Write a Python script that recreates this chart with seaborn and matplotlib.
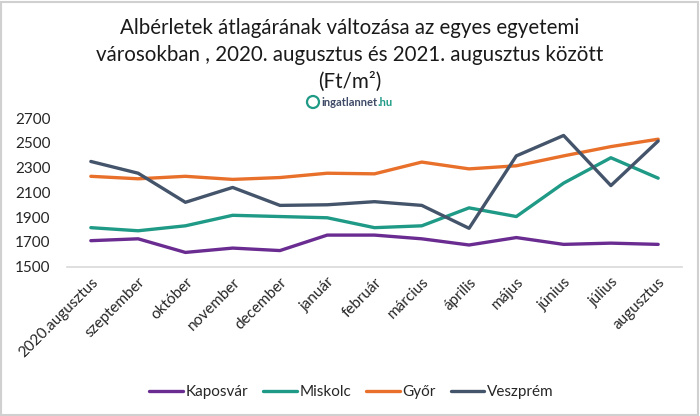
import numpy as np
import pandas as pd
import matplotlib
matplotlib.use("Agg")
import matplotlib.pyplot as plt
import seaborn as sns
from matplotlib.patches import Rectangle, Ellipse

months = ["2020.augusztus", "szeptember", "október", "november", "december",
          "január", "február", "március", "április", "május", "június",
          "július", "augusztus"]
cities = ["Kaposvár", "Miskolc", "Győr", "Veszprém"]
kaposvar = [1710, 1725, 1615, 1650, 1630, 1755, 1755, 1725, 1675, 1735, 1680, 1690, 1680]
miskolc = [1815, 1790, 1830, 1915, 1905, 1895, 1815, 1830, 1975, 1905, 2175, 2380, 2215]
gyor = [2230, 2210, 2230, 2205, 2220, 2255, 2250, 2345, 2290, 2315, 2395, 2470, 2530]
veszprem = [2350, 2255, 2020, 2140, 1995, 2000, 2025, 1995, 1810, 2395, 2560, 2155, 2515]
colors = ["#6A2C91", "#1E9A86", "#E8702A", "#44546A"]

df = pd.DataFrame({
    "pos": list(range(len(months))) * 4,
    "ar": kaposvar + miskolc + gyor + veszprem,
    "varos": [c for c in cities for _ in months],
})

sns.set_theme(style="white")
plt.rcParams["font.family"] = ["Lato", "DejaVu Sans"]

fig = plt.figure(figsize=(7, 4.16), dpi=100)
ax = fig.add_axes([0.096, 0.359, 0.878, 0.357])

sns.lineplot(data=df, x="pos", y="ar", hue="varos", hue_order=cities,
             palette=colors, linewidth=2.4, ax=ax, legend=True)

ax.set_xlim(-0.5, len(months) - 0.5)
ax.set_ylim(1500, 2700)
ax.set_yticks(range(1500, 2701, 200))
ax.set_xticks(range(len(months)))
ax.set_xticklabels(months, rotation=45, ha="right", rotation_mode="anchor")
ax.tick_params(axis="both", labelsize=11, colors="#262626", length=0, pad=6)
ax.tick_params(axis="y", pad=12)
ax.set_xlabel("")
ax.set_ylabel("")
for s in ["top", "right", "left"]:
    ax.spines[s].set_visible(False)
ax.spines["bottom"].set_color("#D9D9D9")
ax.spines["bottom"].set_linewidth(1.2)

h, l = ax.get_legend_handles_labels()
ax.legend(h, l, loc="center", bbox_to_anchor=(0.502, 0.058), bbox_transform=fig.transFigure,
          ncol=4, frameon=False, fontsize=11, handlelength=2.2, handletextpad=0.15,
          columnspacing=1.0, labelcolor="#262626")

fig.text(0.5, 0.868, "Albérletek átlagárának változása az egyes egyetemi\n"
         "városokban , 2020. augusztus és 2021. augusztus között\n(Ft/m²)",
         ha="center", va="center", fontsize=14.8, color="#1a1a1a", linespacing=1.42)

# logo
ly = 1 - 102 / 416
fig.patches.append(Ellipse((313 / 700, ly), 12 / 700, 12 / 416, transform=fig.transFigure,
                           facecolor="white", edgecolor="#1E9A86", linewidth=1.6))
t1 = fig.text(321 / 700, ly, "ingatlannet", ha="left", va="center",
              fontsize=8, fontweight="bold", color="#3E4A66")
r = fig.canvas.get_renderer()
bb = t1.get_window_extent(renderer=r)
fig.text(bb.x1 / fig.bbox.width, ly, ".hu", ha="left", va="center",
         fontsize=8, fontweight="bold", color="#1E9A86")

fig.patches.append(Rectangle((0.002, 0.003), 0.995, 0.993, transform=fig.transFigure,
                             fill=False, edgecolor="#D0D0D0", linewidth=1.5))

fig.savefig("out.png", dpi=100)
